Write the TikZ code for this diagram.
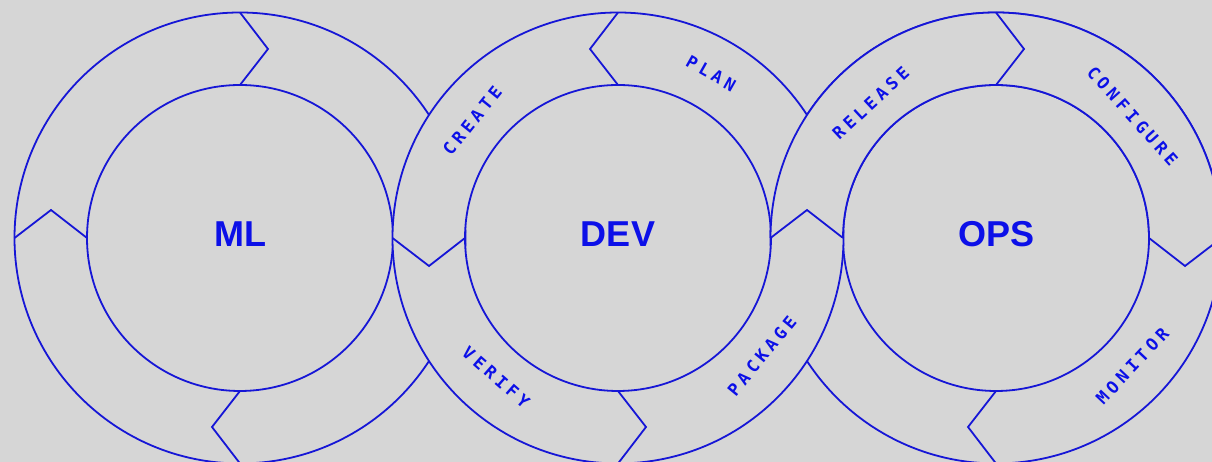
\documentclass[tikz,border=0pt]{standalone}
\usepackage{fontspec}
\setmainfont{Liberation Sans}
\newfontfamily\stagefont[LetterSpace=25]{DejaVu Sans Mono}
\usetikzlibrary{calc}
\definecolor{bg}{RGB}{214,214,214}
\definecolor{ringblue}{RGB}{22,22,214}
\definecolor{txtblue}{RGB}{12,16,232}
\tikzset{
  ring/.style={draw=ringblue, line width=1.8pt},
  cover/.style={fill=bg, even odd rule},
  hub/.style={text=txtblue, inner sep=0pt, font=\fontsize{36}{40}\selectfont\bfseries},
  stage/.style={text=txtblue, inner sep=0pt, font=\stagefont\bfseries\fontsize{17}{19}\selectfont}
}

\begin{document}
\begin{tikzpicture}[x=1pt,y=1pt]
\fill[bg] (0,0) rectangle (1212,462);
\useasboundingbox (0,0) rectangle (1212,462);
\clip (0,0) rectangle (1212,462);

\coordinate (ml) at (240,224);
\coordinate (dev) at (618,224);
\coordinate (ops) at (996,224);

% ML ring, arrows clockwise
\draw[ring] (ml) circle[radius=225.5pt];
\draw[ring] (ml) circle[radius=153pt];
\foreach \a in {0,90,180,270}
  \draw[ring] ($(ml)+(\a:225.5pt)$) -- ($(ml)+(\a:189pt)+(\a-90:28pt)$) -- ($(ml)+(\a:153pt)$);
\node[hub] (mltext) at ($(ml)+(0,4)$) {ML};

% OPS ring, arrows clockwise (lower half goes under DEV)
\fill[cover] (ops) circle[radius=225.5pt] (ops) circle[radius=153pt];
\draw[ring] (ops) circle[radius=225.5pt];
\draw[ring] (ops) circle[radius=153pt];
\foreach \a in {0,90,180,270}
  \draw[ring] ($(ops)+(\a:225.5pt)$) -- ($(ops)+(\a:189pt)+(\a-90:28pt)$) -- ($(ops)+(\a:153pt)$);
\node[hub] (opstext) at ($(ops)+(0,4)$) {OPS};
\node[stage, rotate=46.8] (monitor) at ($(ops)+(-43.2:187pt)$) {MONITOR};

% DEV ring over ML and over the lower half of OPS, arrows counter clockwise
\fill[cover] (dev) circle[radius=225.5pt] (dev) circle[radius=153pt];
\draw[ring] (dev) circle[radius=225.5pt];
\draw[ring] (dev) circle[radius=153pt];
\foreach \a in {0,90,180,270}
  \draw[ring] ($(dev)+(\a:225.5pt)$) -- ($(dev)+(\a:189pt)+(\a+90:28pt)$) -- ($(dev)+(\a:153pt)$);
\node[hub] (devtext) at ($(dev)+(0,4)$) {DEV};
\node[stage, rotate=51.2] (create) at ($(dev)+(141.2:187pt)$) {CREATE};
\node[stage, rotate=-29.5] (plan) at ($(dev)+(60.5:189pt)$) {PLAN};
\node[stage, rotate=50.7] (package) at ($(dev)+(-39.3:186pt)$) {PACKAGE};
\node[stage, rotate=-41.2] (verify) at ($(dev)+(-131.2:185pt)$) {VERIFY};

% upper half of OPS again, over DEV
\begin{scope}
  \clip (0,224) rectangle (1212,462);
  \fill[cover] (ops) circle[radius=225.5pt] (ops) circle[radius=153pt];
  \draw[ring] (ops) circle[radius=225.5pt];
  \draw[ring] (ops) circle[radius=153pt];
  \foreach \a in {0,90,180}
    \draw[ring] ($(ops)+(\a:225.5pt)$) -- ($(ops)+(\a:189pt)+(\a-90:28pt)$) -- ($(ops)+(\a:153pt)$);
\end{scope}
\node[stage, rotate=42.9] (release) at ($(ops)+(132.9:184pt)$) {RELEASE};
\node[stage, rotate=-48.2] (configure) at ($(ops)+(41.8:183pt)$) {CONFIGURE};
\end{tikzpicture}
\end{document}
